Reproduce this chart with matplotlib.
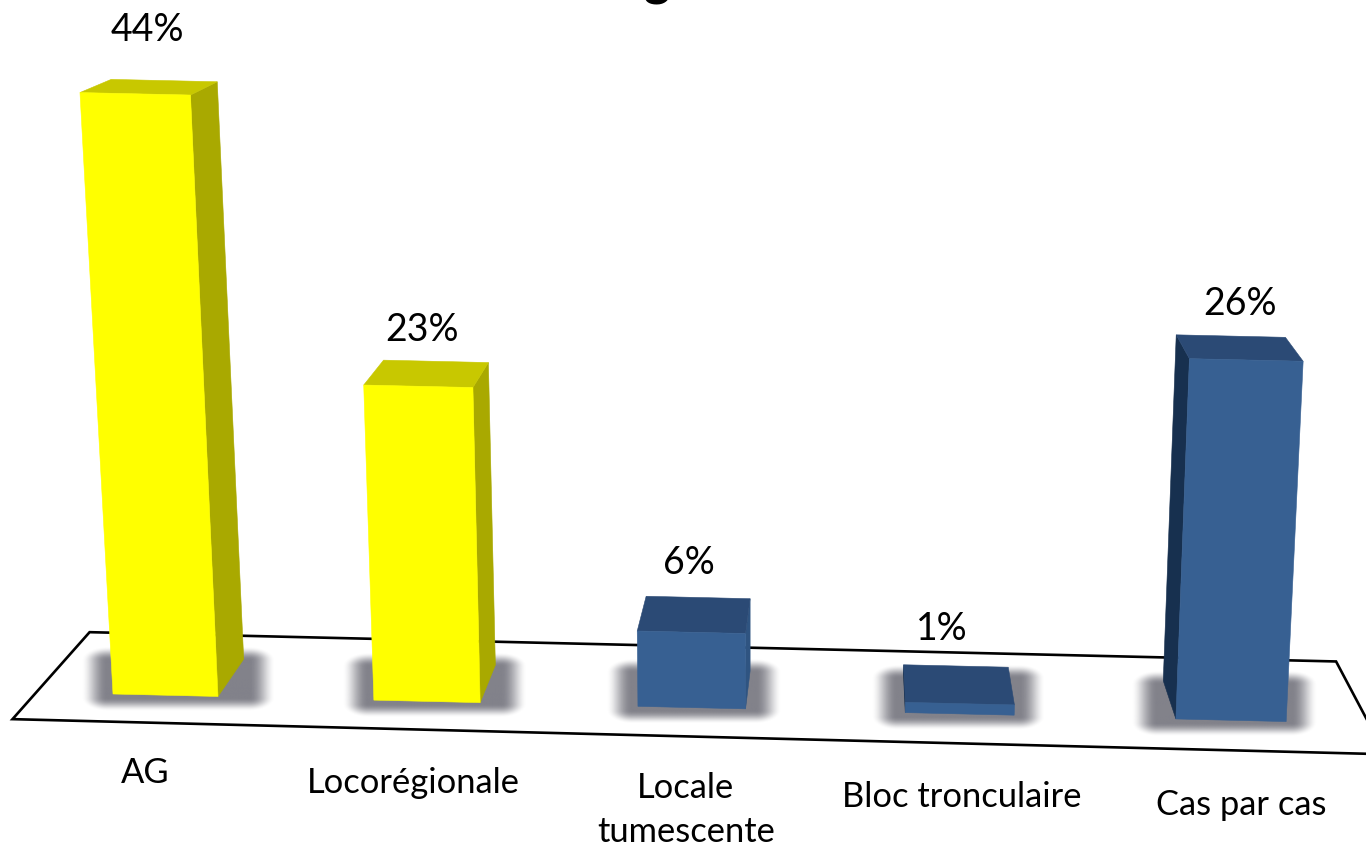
import numpy as np
import matplotlib
matplotlib.use('Agg')
import matplotlib.pyplot as plt
from matplotlib.patches import Polygon

categories = ['AG', 'Locorégionale', 'Locale\ntumescente', 'Bloc tronculaire', 'Cas par cas']
values = [43.9, 23.0, 5.5, 0.75, 26.3]
value_labels = ['44%', '23%', '6%', '1%', '26%']
bar_groups = ['yellow', 'yellow', 'blue', 'blue', 'blue']

COLORS = {
    'yellow': {'front': '#ffff00', 'top': '#c8c800', 'side': '#a9a900'},
    'blue': {'front': '#376092', 'top': '#2b4a75', 'side': '#17304f', 'side_right': '#2f5481'},
}

# perspective of the picture, in pixels
DEPTH_VP = np.array([860.0, -237.0])
HEIGHT_VP = np.array([745.0, 12200.0])
PX_PER_UNIT = 13.7
BAR_WIDTH = 0.404
BAR_DEPTH = 0.04
FLOOR_SLOTS = (-0.296, 4.706)

VALUE_POS = [(147, 30), (422, 330), (689, 563), (942, 629), (1240, 304)]
CAT_POS = [(145, 773), (413, 783), (686, 810), (962, 797), (1241, 805)]


def ground(u, t=0.0):
    # u is the category slot, t the depth towards the back
    px = 113 + 259.3 * u / (1 - 0.00604 * u)
    p = np.array([px, 694 + 0.0235 * (px - 113)])
    return p + (DEPTH_VP - p) * t


def raise_point(p, value):
    h = value * PX_PER_UNIT
    return p + (p - HEIGHT_VP) * h / (HEIGHT_VP[1] - p[1])


def back(p):
    return p + (DEPTH_VP - p) * BAR_DEPTH


def add_face(ax, pts, color, z):
    ax.add_patch(Polygon(pts, closed=True, facecolor=color, edgecolor=color, linewidth=0.4, zorder=z))


def draw_shadow(ax, pts):
    pts = np.array(pts)
    x0, x1 = pts[:, 0].min() - 6, pts[:, 0].max() + 6
    y0, y1 = pts[:, 1].min() + 3, pts[:, 1].max() + 1
    rx, ry = 26, 14
    xs = np.arange(x0 - rx, x1 + rx)
    ys = np.arange(y0 - ry, y1 + ry)
    X, Y = np.meshgrid(xs, ys)
    dx = np.maximum(np.maximum(x0 - X, X - x1), 0) / rx
    dy = np.maximum(np.maximum(y0 - Y, Y - y1), 0) / ry
    d = np.clip(np.hypot(dx, dy), 0, 1)
    img = np.zeros(X.shape + (4,))
    img[..., 0] = 0.40
    img[..., 1] = 0.40
    img[..., 2] = 0.44
    img[..., 3] = 0.82 * (1 - d * d) ** 2
    ax.imshow(img, extent=(xs[0], xs[-1], ys[-1], ys[0]), aspect='auto', zorder=2, interpolation='bilinear')


def draw_bar(ax, i):
    colors = COLORS[bar_groups[i]]
    fl = ground(i)
    fr = ground(i + BAR_WIDTH)
    tl = raise_point(fl, values[i])
    tr = raise_point(fr, values[i])
    bl, br = back(fl), back(fr)
    tbl, tbr = back(tl), back(tr)
    draw_shadow(ax, [fl, fr, bl, br])
    if br[0] > fr[0]:
        add_face(ax, [fr, tr, tbr, br], colors.get('side_right', colors['side']), 3)
    if bl[0] < fl[0]:
        add_face(ax, [fl, tl, tbl, bl], colors['side'], 3)
    add_face(ax, [tl, tr, tbr, tbl], colors['top'], 4)
    add_face(ax, [fl, fr, tr, tl], colors['front'], 5)


def main():
    plt.rcParams['font.family'] = ['Lato', 'DejaVu Sans']
    fig = plt.figure(figsize=(13.66, 8.46), dpi=100)
    ax = fig.add_axes([0, 0, 1, 1])

    floor = [ground(FLOOR_SLOTS[0], -0.029), ground(FLOOR_SLOTS[1], -0.032),
             ground(FLOOR_SLOTS[1], 0.0646), ground(FLOOR_SLOTS[0], 0.0646)]
    ax.add_patch(Polygon(floor, closed=True, facecolor='white', edgecolor='black', linewidth=1.9, zorder=1))

    for i in range(len(values)):
        draw_bar(ax, i)

    for label, (x, y) in zip(value_labels, VALUE_POS):
        ax.text(x, y, label, fontsize=27, ha='center', va='center', color='black', zorder=6)
    for label, (x, y) in zip(categories, CAT_POS):
        ax.text(x, y, label, fontsize=24.8, ha='center', va='center', color='black',
                linespacing=1.5, zorder=6)

    # only the bottom of the title is left in the crop
    ax.text(657, -4, 'g', fontsize=36, fontweight='bold', ha='center', va='baseline', clip_on=False)

    ax.set_xlim(0, 1366)
    ax.set_ylim(846, 0)
    ax.axis('off')
    fig.savefig('out.png', dpi=100, facecolor='white')


if __name__ == "__main__":
    main()
